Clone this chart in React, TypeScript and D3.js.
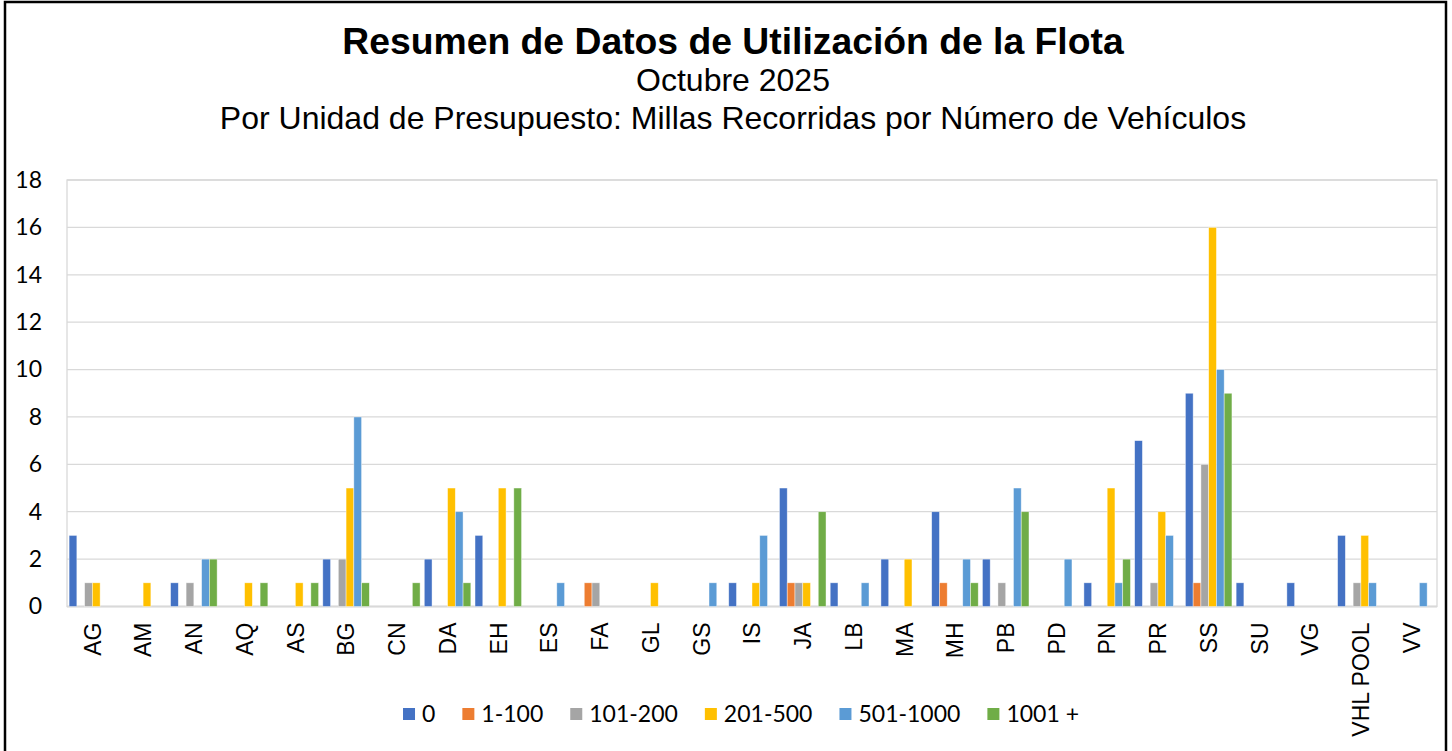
import React, { useRef, useEffect } from 'react';
import * as d3 from 'd3';

const categories = ['AG', 'AM', 'AN', 'AQ', 'AS', 'BG', 'CN', 'DA', 'EH', 'ES', 'FA', 'GL', 'GS', 'IS', 'JA', 'LB', 'MA', 'MH', 'PB', 'PD', 'PN', 'PR', 'SS', 'SU', 'VG', 'VHL POOL', 'VV'];
const seriesNames = ['0', '1-100', '101-200', '201-500', '501-1000', '1001 +'];
const seriesColors = ['#4472C4', '#ED7D31', '#A5A5A5', '#FFC000', '#5B9BD5', '#70AD47'];

const miles0 = [3, 0, 1, 0, 0, 2, 0, 2, 3, 0, 0, 0, 0, 1, 5, 1, 2, 4, 2, 0, 1, 7, 9, 1, 1, 3, 0];
const miles1to100 = [0, 0, 0, 0, 0, 0, 0, 0, 0, 0, 1, 0, 0, 0, 1, 0, 0, 1, 0, 0, 0, 0, 1, 0, 0, 0, 0];
const miles101to200 = [1, 0, 1, 0, 0, 2, 0, 0, 0, 0, 1, 0, 0, 0, 1, 0, 0, 0, 1, 0, 0, 1, 6, 0, 0, 1, 0];
const miles201to500 = [1, 1, 0, 1, 1, 5, 0, 5, 5, 0, 0, 1, 0, 1, 1, 0, 2, 0, 0, 0, 5, 4, 16, 0, 0, 3, 0];
const miles501to1000 = [0, 0, 2, 0, 0, 8, 0, 4, 0, 1, 0, 0, 1, 3, 0, 1, 0, 2, 5, 2, 1, 3, 10, 0, 0, 1, 1];
const miles1001plus = [0, 0, 2, 1, 1, 1, 1, 1, 5, 0, 0, 0, 0, 0, 4, 0, 0, 1, 4, 0, 2, 0, 9, 0, 0, 0, 0];

const yTicks = [0, 2, 4, 6, 8, 10, 12, 14, 16, 18];

const W = 1452;
const H = 751;

export default function App() {
    const svgRef = useRef<SVGSVGElement>(null);

    useEffect(() => {
        const svg = d3.select(svgRef.current);
        svg.selectAll('*').remove();

        const allSeries = [miles0, miles1to100, miles101to200, miles201to500, miles501to1000, miles1001plus];
        const rows = categories.map((c, i) => ({
            cat: c,
            values: seriesNames.map((s, k) => ({ key: s, color: seriesColors[k], value: allSeries[k][i] }))
        }));

        const left = 67, right = 1437, top = 180, bottom = 606.5;

        const x0 = d3.scaleBand().domain(categories).range([left, right]);
        const x1 = d3.scaleBand().domain(seriesNames).range([0, x0.bandwidth()]).paddingInner(0).paddingOuter(0.27);
        const y = d3.scaleLinear().domain([0, 18]).range([bottom, top]);

        // outer frame
        svg.append('rect')
            .attr('x', 0).attr('y', 0).attr('width', W).attr('height', H)
            .attr('fill', '#fff');
        svg.append('rect')
            .attr('x', 5).attr('y', 2).attr('width', 1441).attr('height', 770)
            .attr('fill', 'none').attr('stroke', '#000').attr('stroke-width', 2.5);

        // titles
        const titleX = 733;
        svg.append('text')
            .attr('x', titleX).attr('y', 54)
            .attr('text-anchor', 'middle')
            .style('font-family', '"Liberation Sans", Arial, sans-serif')
            .style('font-weight', 'bold')
            .style('font-size', '37.3px')
            .text('Resumen de Datos de Utilización de la Flota');
        svg.append('text')
            .attr('x', titleX).attr('y', 91)
            .attr('text-anchor', 'middle')
            .style('font-family', '"Liberation Sans", Arial, sans-serif')
            .style('font-size', '32px')
            .text('Octubre 2025');
        svg.append('text')
            .attr('x', titleX).attr('y', 129)
            .attr('text-anchor', 'middle')
            .style('font-family', '"Liberation Sans", Arial, sans-serif')
            .style('font-size', '32px')
            .text('Por Unidad de Presupuesto: Millas Recorridas por Número de Vehículos');

        // gridlines
        svg.append('g')
            .selectAll('line')
            .data(yTicks)
            .join('line')
            .attr('x1', left).attr('x2', right)
            .attr('y1', d => y(d)).attr('y2', d => y(d))
            .attr('stroke', '#d9d9d9')
            .attr('stroke-width', d => d === 0 ? 2 : 1.3);

        svg.append('rect')
            .attr('x', left).attr('y', top).attr('width', right - left).attr('height', bottom - top)
            .attr('fill', 'none').attr('stroke', '#d9d9d9').attr('stroke-width', 1.3);

        // y axis
        const yAxis = d3.axisLeft(y).tickValues(yTicks).tickSize(0).tickPadding(25);
        const yg = svg.append('g').attr('transform', `translate(${left},0)`).call(yAxis);
        yg.select('.domain').remove();
        yg.selectAll('text')
            .style('font-family', 'Lato, "Open Sans", sans-serif')
            .style('font-size', '23px')
            .attr('fill', '#000');

        // x axis
        const xAxis = d3.axisBottom(x0).tickSize(0);
        const xg = svg.append('g').attr('transform', `translate(0,${bottom})`).call(xAxis);
        xg.select('.domain').remove();
        xg.selectAll('text')
            .attr('transform', 'rotate(-90)')
            .attr('text-anchor', 'end')
            .attr('x', -16)
            .attr('y', 0)
            .attr('dy', '0.36em')
            .style('font-family', '"Liberation Sans", Arial, sans-serif')
            .style('font-size', '23px')
            .attr('fill', '#000');

        // bars
        svg.append('g')
            .selectAll('g')
            .data(rows)
            .join('g')
            .attr('transform', d => `translate(${x0(d.cat)},0)`)
            .selectAll('rect')
            .data(d => d.values.filter(v => v.value > 0))
            .join('rect')
            .attr('x', d => x1(d.key))
            .attr('width', x1.bandwidth())
            .attr('y', d => y(d.value))
            .attr('height', d => y(0) - y(d.value))
            .attr('fill', d => d.color)
            .attr('stroke', '#ffffff')
            .attr('stroke-opacity', 0.6)
            .attr('stroke-width', 0.7);

        // legend
        const legend = svg.append('g');
        const items = legend.selectAll('g')
            .data(seriesNames)
            .join('g');
        items.append('rect')
            .attr('width', 12).attr('height', 12)
            .attr('y', -6)
            .attr('fill', (d, i) => seriesColors[i]);
        items.append('text')
            .attr('x', 19)
            .attr('dy', '0.36em')
            .style('font-family', 'Lato, "Open Sans", sans-serif')
            .style('font-size', '23px')
            .attr('fill', '#000')
            .text(d => d);

        const gap = 27;
        let cursor = 0;
        const offsets: number[] = [];
        items.each(function () {
            offsets.push(cursor);
            const t = d3.select(this).select('text').node() as SVGTextElement;
            cursor += 19 + t.getComputedTextLength() + gap;
        });
        const total = cursor - gap;
        const legendCenter = 741;
        items.attr('transform', (d, i) => `translate(${legendCenter - total / 2 + offsets[i]},714)`);
    }, []);

    return (
        <div style={{ position: 'absolute', left: 0, top: 0 }}>
            <svg ref={svgRef} width={W} height={H} style={{ display: 'block' }} />
        </div>
    );
}
